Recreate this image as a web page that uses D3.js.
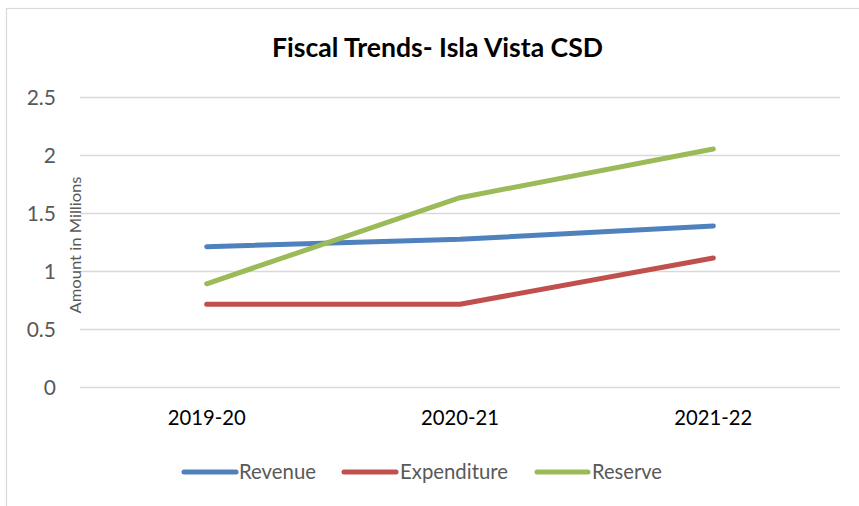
<!DOCTYPE html>
<html>
<head>
<meta charset="utf-8">
<script src="https://cdn.jsdelivr.net/npm/d3@7"></script>
<style>
  html, body { margin: 0; padding: 0; background: #fff; }
  svg { display: block; }
  text { font-family: Lato, "Open Sans", "Noto Sans", sans-serif; }
</style>
</head>
<body>
<svg id="chart" width="859" height="506"></svg>
<script>
const categories = ["2019-20", "2020-21", "2021-22"];
const revenue = [1.21, 1.273, 1.388];
const expenditure = [0.713, 0.713, 1.112];
const reserve = [0.89, 1.632, 2.052];
const yTicks = [0, 0.5, 1, 1.5, 2, 2.5];
const seriesNames = ["Revenue", "Expenditure", "Reserve"];
const seriesColors = ["#4F81BD", "#C0504D", "#9BBB59"];

const series = [
  { name: seriesNames[0], values: revenue, color: seriesColors[0] },
  { name: seriesNames[1], values: expenditure, color: seriesColors[1] },
  { name: seriesNames[2], values: reserve, color: seriesColors[2] }
];

const svg = d3.select("#chart");

// chart border
svg.append("rect")
  .attr("x", 6.5).attr("y", 8.5)
  .attr("width", 900).attr("height", 600)
  .attr("fill", "none").attr("stroke", "#d9d9d9").attr("stroke-width", 1.2);

const plot = { left: 80, right: 840, top: 97, bottom: 387 };

const x = d3.scaleBand().domain(categories).range([plot.left, plot.right]);
const y = d3.scaleLinear().domain([0, 2.5]).range([plot.bottom, plot.top]);

// gridlines + y labels
const yAxis = d3.axisLeft(y).tickValues(yTicks).tickSize(-(plot.right - plot.left)).tickPadding(24)
  .tickFormat(d => String(d));
const gy = svg.append("g").attr("transform", `translate(${plot.left},0)`).call(yAxis);
gy.select(".domain").remove();
gy.selectAll(".tick line").attr("stroke", "#d9d9d9").attr("stroke-width", 1.3);
gy.selectAll(".tick text")
  .attr("fill", "#595959").attr("font-size", 21)
  .attr("font-family", "Lato, 'Open Sans', sans-serif")
  .attr("dy", "0.34em");

// x labels
const xAxis = d3.axisBottom(x).tickSize(0).tickPadding(0);
const gx = svg.append("g").attr("transform", `translate(0,${plot.bottom})`).call(xAxis);
gx.select(".domain").remove();
gx.selectAll(".tick text")
  .attr("fill", "#000").attr("font-size", 21)
  .attr("font-family", "Lato, 'Open Sans', sans-serif")
  .attr("dy", 0).attr("y", 38)
  .attr("textLength", 78).attr("lengthAdjust", "spacingAndGlyphs");

// lines
const line = d3.line()
  .x((d, i) => x(categories[i]) + x.bandwidth() / 2)
  .y(d => y(d));

svg.append("g").selectAll("path")
  .data(series)
  .join("path")
  .attr("d", d => line(d.values))
  .attr("fill", "none")
  .attr("stroke", d => d.color)
  .attr("stroke-width", 5)
  .attr("stroke-linecap", "round")
  .attr("stroke-linejoin", "round");

// title
svg.append("text")
  .attr("x", 437.5).attr("y", 57)
  .attr("text-anchor", "middle")
  .attr("font-size", 26).attr("font-weight", "bold")
  .attr("fill", "#000")
  .attr("textLength", 331).attr("lengthAdjust", "spacingAndGlyphs")
  .text("Fiscal Trends- Isla Vista CSD");

// y axis title
svg.append("text")
  .attr("transform", "translate(81,245) rotate(-90)")
  .attr("text-anchor", "middle")
  .attr("font-size", 14.5)
  .attr("fill", "#595959")
  .attr("textLength", 137).attr("lengthAdjust", "spacingAndGlyphs")
  .text("Amount in Millions");

// legend
const legendItems = [
  { x1: 184, x2: 236, tx: 239, tw: 77 },
  { x1: 344, x2: 396, tx: 400, tw: 108 },
  { x1: 537, x2: 588, tx: 592, tw: 70 }
];
const lg = svg.append("g");
series.forEach((s, i) => {
  const it = legendItems[i];
  lg.append("line")
    .attr("x1", it.x1).attr("x2", it.x2)
    .attr("y1", 472).attr("y2", 472)
    .attr("stroke", s.color).attr("stroke-width", 5)
    .attr("stroke-linecap", "round");
  lg.append("text")
    .attr("x", it.tx).attr("y", 479)
    .attr("font-size", 21).attr("fill", "#595959")
    .attr("textLength", it.tw).attr("lengthAdjust", "spacingAndGlyphs")
    .text(s.name);
});
</script>
</body>
</html>
